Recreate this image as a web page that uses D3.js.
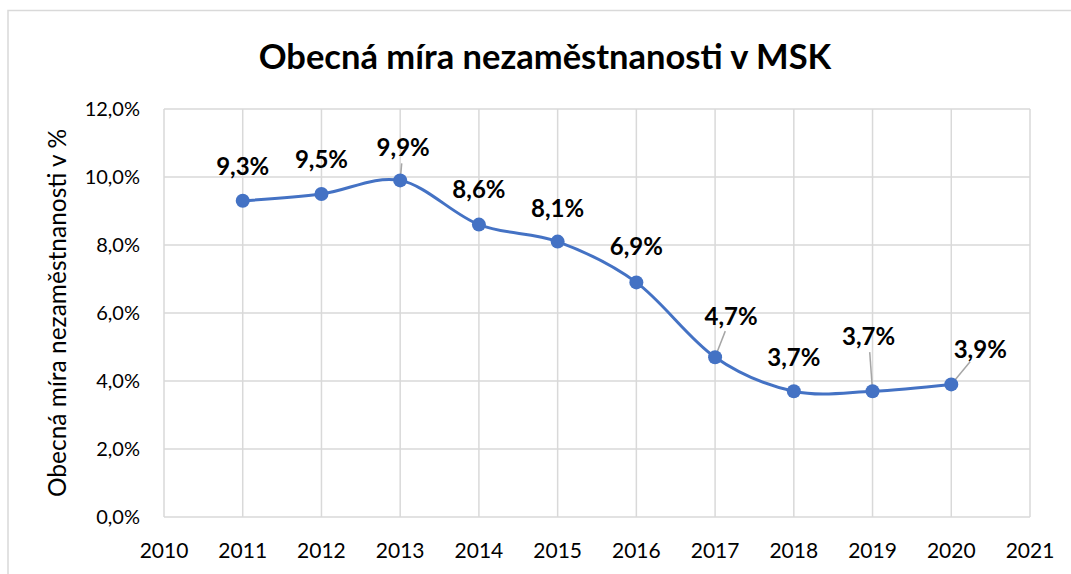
<!DOCTYPE html>
<html>
<head>
<meta charset="utf-8">
<script src="https://cdn.jsdelivr.net/npm/d3@7"></script>
<style>
  body { margin: 0; background: #fff; }
  text { font-family: Lato, "Open Sans", sans-serif; fill: #000; }
</style>
</head>
<body>
<svg width="1071" height="574"></svg>
<script>
// data
const years = [2011, 2012, 2013, 2014, 2015, 2016, 2017, 2018, 2019, 2020];
const rates = [9.3, 9.5, 9.9, 8.6, 8.1, 6.9, 4.7, 3.7, 3.7, 3.9];
const yTicks = [0, 2, 4, 6, 8, 10, 12];
const xTicks = [2010, 2011, 2012, 2013, 2014, 2015, 2016, 2017, 2018, 2019, 2020, 2021];

// label placement (pixel offsets from the point), leader line drawn when far
const labelShift = [[0, -34], [0, -34], [3, -33], [0, -35], [0, -33], [0, -36], [16, -41], [0, -34], [-4, -55], [29, -35]];
const leader = [false, false, true, false, false, false, true, false, true, true];

const svg = d3.select("svg"),
  width = +svg.attr("width"),
  height = +svg.attr("height");

const fmt = v => d3.format(".1f")(v).replace(".", ",") + "%";

// outer frame
svg.append("path")
  .attr("d", "M8,574 V10.5 H1071")
  .attr("fill", "none")
  .attr("stroke", "#d9d9d9")
  .attr("stroke-width", 1.5);

const x = d3.scaleLinear().domain([2010, 2021]).range([164, 1030]);
const y = d3.scaleLinear().domain([0, 12]).range([517, 109]);

// grid
svg.append("g").selectAll("line")
  .data(yTicks)
  .enter().append("line")
  .attr("x1", x(2010)).attr("x2", x(2021))
  .attr("y1", d => y(d)).attr("y2", d => y(d))
  .attr("stroke", "#d9d9d9").attr("stroke-width", 1.5);

svg.append("g").selectAll("line")
  .data(xTicks)
  .enter().append("line")
  .attr("x1", d => x(d)).attr("x2", d => x(d))
  .attr("y1", y(0)).attr("y2", y(12))
  .attr("stroke", "#d9d9d9").attr("stroke-width", 1.5);

// axes labels
svg.append("g").selectAll("text")
  .data(yTicks)
  .enter().append("text")
  .attr("x", 140)
  .attr("y", d => y(d))
  .attr("dy", "0.35em")
  .attr("text-anchor", "end")
  .style("font-size", "20px")
  .text(fmt);

svg.append("g").selectAll("text")
  .data(xTicks)
  .enter().append("text")
  .attr("x", d => x(d))
  .attr("y", 558)
  .attr("text-anchor", "middle")
  .style("font-size", "21px")
  .text(d => d);

// title
svg.append("text")
  .attr("x", 545)
  .attr("y", 69)
  .attr("text-anchor", "middle")
  .style("font-size", "34.5px")
  .style("font-weight", "bold")
  .text("Obecná míra nezaměstnanosti v MSK");

svg.append("text")
  .attr("transform", "translate(66," + y(6) + ") rotate(-90)")
  .attr("text-anchor", "middle")
  .style("font-size", "24.5px")
  .text("Obecná míra nezaměstnanosti v %");

// series
const pts = years.map((yr, i) => [x(yr), y(rates[i])]);

svg.append("path")
  .datum(pts)
  .attr("fill", "none")
  .attr("stroke", "#4472c4")
  .attr("stroke-width", 3)
  .attr("d", d3.line().curve(d3.curveCardinal.tension(0)));

// leader lines
svg.append("g").selectAll("line")
  .data(pts.map((p, i) => ({ p, s: labelShift[i], on: leader[i] })).filter(d => d.on))
  .enter().append("line")
  .attr("x1", d => d.p[0])
  .attr("y1", d => d.p[1])
  .attr("x2", d => {
    const len = Math.hypot(d.s[0], d.s[1]);
    return d.p[0] + d.s[0] * (len - 16) / len;
  })
  .attr("y2", d => {
    const len = Math.hypot(d.s[0], d.s[1]);
    return d.p[1] + d.s[1] * (len - 16) / len;
  })
  .attr("stroke", "#a6a6a6")
  .attr("stroke-width", 1.5);

svg.append("g").selectAll("circle")
  .data(pts)
  .enter().append("circle")
  .attr("cx", d => d[0])
  .attr("cy", d => d[1])
  .attr("r", 7)
  .attr("fill", "#4472c4");

svg.append("g").selectAll("text")
  .data(rates)
  .enter().append("text")
  .attr("x", (d, i) => pts[i][0] + labelShift[i][0])
  .attr("y", (d, i) => pts[i][1] + labelShift[i][1])
  .attr("dy", "0.35em")
  .attr("text-anchor", "middle")
  .style("font-size", "24px")
  .style("font-weight", "bold")
  .text(fmt);
</script>
</body>
</html>
